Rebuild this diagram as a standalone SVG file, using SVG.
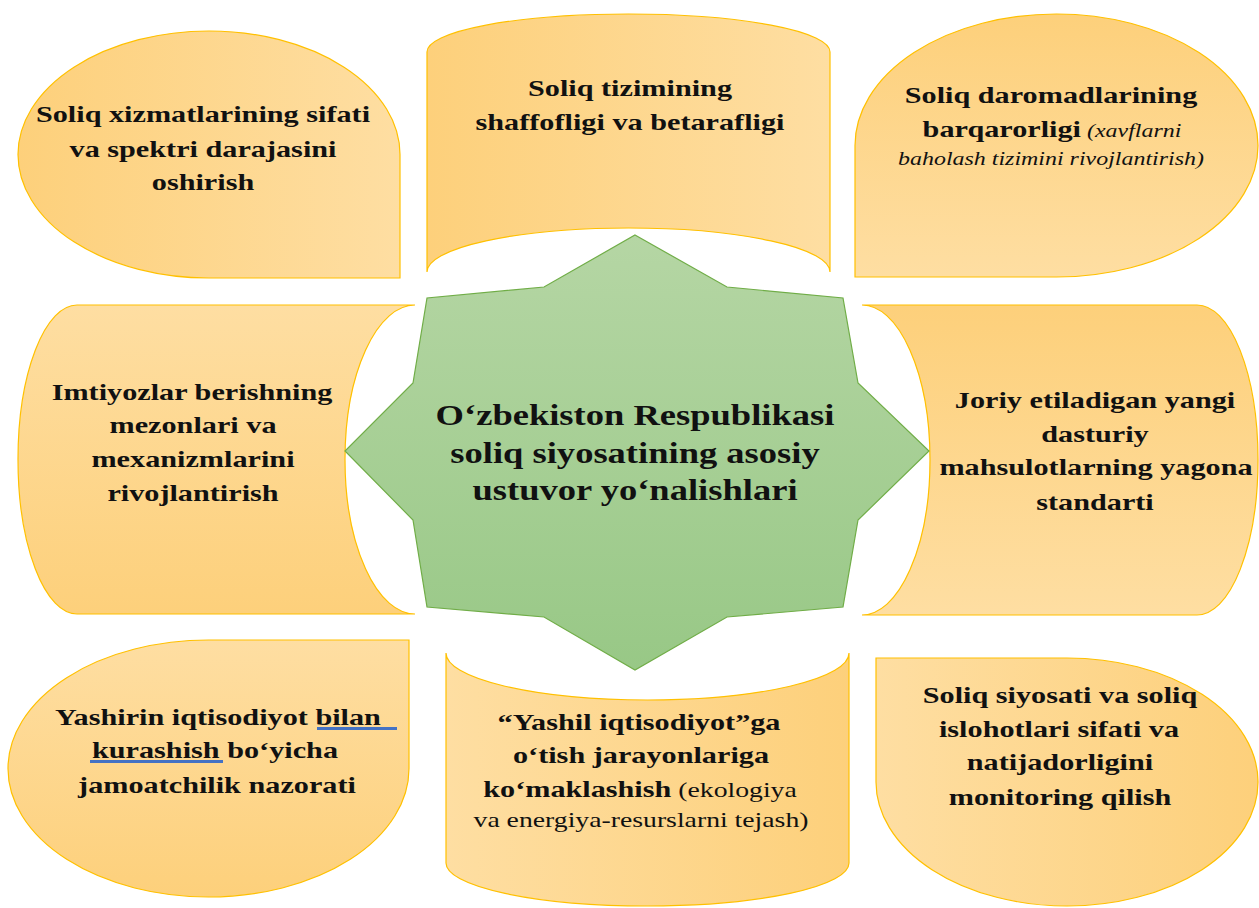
<svg xmlns="http://www.w3.org/2000/svg" width="1259" height="908" viewBox="0 0 1259 908">
<defs>
<linearGradient id="gL2R" x1="0" y1="0" x2="1" y2="0"><stop offset="0" stop-color="#FDD07B"/><stop offset="1" stop-color="#FEDEA2"/></linearGradient>
<linearGradient id="gR2L" x1="1" y1="0" x2="0" y2="0"><stop offset="0" stop-color="#FDD07B"/><stop offset="1" stop-color="#FEDEA2"/></linearGradient>
<linearGradient id="gT2B" x1="0" y1="0" x2="0" y2="1"><stop offset="0" stop-color="#FDD07B"/><stop offset="1" stop-color="#FEDEA2"/></linearGradient>
<linearGradient id="gB2T" x1="0" y1="1" x2="0" y2="0"><stop offset="0" stop-color="#FDD07B"/><stop offset="1" stop-color="#FEDEA2"/></linearGradient>
<linearGradient id="gStar" x1="0" y1="0" x2="0" y2="1"><stop offset="0" stop-color="#B5D6A4"/><stop offset="1" stop-color="#98C886"/></linearGradient>
</defs>
<style>
.box{stroke:#FFC000;stroke-width:1.2}
.star{fill:url(#gStar);stroke:#70AD47;stroke-width:1.2}
text{font-family:"Liberation Serif","Times New Roman",serif;fill:#111;text-anchor:middle}
.b{font-weight:bold;font-size:24px}
.c{font-weight:bold;font-size:29px}
.it{font-style:italic;font-weight:normal;font-size:19px}
.r{font-weight:normal;font-size:22px}
.ul{fill:#4472C4}
</style>
<rect width="1259" height="908" fill="#FFFFFF"/>
<g id="connectors"/>
<g id="node-top-left">
<path class="box" fill="url(#gL2R)" d="M400,278 L209,278 A191,123.5 0 0 1 18,154.5 A191,123.5 0 0 1 209,31 A191,123.5 0 0 1 400,154.5 Z"/>
<text class="b" transform="translate(203,122) scale(1.26,1)">Soliq xizmatlarining sifati</text>
<text class="b" transform="translate(203,157) scale(1.26,1)">va spektri darajasini</text>
<text class="b" transform="translate(203,190) scale(1.26,1)">oshirish</text>
</g>
<g id="node-top-middle">
<path class="box" fill="url(#gL2R)" d="M427,52 A201.5,38 0 0 1 830,52 L830,272 A201.5,44 0 0 0 427,272 Z"/>
<text class="b" transform="translate(630,96) scale(1.26,1)">Soliq tizimining</text>
<text class="b" transform="translate(630,130) scale(1.26,1)">shaffofligi va betarafligi</text>
</g>
<g id="node-top-right">
<path class="box" fill="url(#gT2B)" d="M855,277 L855,145.5 A201.5,131.5 0 0 1 1056.5,14 A201.5,131.5 0 0 1 1258,145.5 A201.5,131.5 0 0 1 1056.5,277 Z"/>
<text class="b" transform="translate(1051,103) scale(1.26,1)">Soliq daromadlarining</text>
<text transform="translate(1052,137) scale(1.26,1)"><tspan class="b">barqarorligi</tspan><tspan class="it"> (xavflarni</tspan></text>
<text class="it" transform="translate(1051,165) scale(1.26,1)">baholash tizimini rivojlantirish)</text>
</g>
<g id="node-middle-left">
<path class="box" fill="url(#gB2T)" d="M77,305 L415,305 A70,154.5 0 0 0 415,614 L77,614 A59,154.5 0 0 1 77,305 Z"/>
<text class="b" transform="translate(192,400) scale(1.26,1)">Imtiyozlar berishning</text>
<text class="b" transform="translate(193,433) scale(1.26,1)">mezonlari va</text>
<text class="b" transform="translate(193,467) scale(1.26,1)">mexanizmlarini</text>
<text class="b" transform="translate(193,501) scale(1.26,1)">rivojlantirish</text>
</g>
<g id="node-middle-right">
<path class="box" fill="url(#gT2B)" d="M862,305 L1197,305 A61,155 0 0 1 1197,615 L862,615 A68,155 0 0 0 862,305 Z"/>
<text class="b" transform="translate(1095,408) scale(1.26,1)">Joriy etiladigan yangi</text>
<text class="b" transform="translate(1095,442) scale(1.26,1)">dasturiy</text>
<text class="b" transform="translate(1096,475) scale(1.26,1)">mahsulotlarning yagona</text>
<text class="b" transform="translate(1095,510) scale(1.26,1)">standarti</text>
</g>
<g id="node-bottom-left">
<path class="box" fill="url(#gB2T)" d="M409,640 L409,768.5 A200.5,128.5 0 0 1 208.5,897 A200.5,128.5 0 0 1 8,768.5 A200.5,128.5 0 0 1 208.5,640 Z"/>
<rect class="ul" x="317" y="727" width="80" height="3"/>
<rect class="ul" x="90" y="760" width="133" height="3"/>
<text class="b" transform="translate(218,725) scale(1.26,1)">Yashirin iqtisodiyot bilan</text>
<text class="b" transform="translate(215,758) scale(1.26,1)">kurashish bo‘yicha</text>
<text class="b" transform="translate(217,793) scale(1.26,1)">jamoatchilik nazorati</text>
</g>
<g id="node-bottom-middle">
<path class="box" fill="url(#gR2L)" d="M446,653 A201.5,47 0 0 0 849,653 L849,863 A201.5,43 0 0 1 446,863 Z"/>
<text class="b" transform="translate(639,730) scale(1.26,1)">“Yashil iqtisodiyot”ga</text>
<text class="b" transform="translate(641,763) scale(1.26,1)">o‘tish jarayonlariga</text>
<text transform="translate(640,797) scale(1.26,1)"><tspan class="b">ko‘maklashish</tspan><tspan class="r"> (ekologiya</tspan></text>
<text class="r" transform="translate(641,827) scale(1.26,1)">va energiya-resurslarni tejash)</text>
</g>
<g id="node-bottom-right">
<path class="box" fill="url(#gR2L)" d="M876,658 L1067,658 A191,124 0 0 1 1258,782 A191,124 0 0 1 1067,906 A191,124 0 0 1 876,782 Z"/>
<text class="b" transform="translate(1060,703) scale(1.26,1)">Soliq siyosati va soliq</text>
<text class="b" transform="translate(1059,737) scale(1.26,1)">islohotlari sifati va</text>
<text class="b" transform="translate(1060,770) scale(1.26,1)">natijadorligini</text>
<text class="b" transform="translate(1060,805) scale(1.26,1)">monitoring qilish</text>
</g>
<g id="node-center">
<polygon class="star" points="635,235 727,287 843,298 858,383 929,451 858,520 843,607 727,617 635,670 544,617 427,607 413,520 345,451 413,383 427,298 544,287"/>
<text class="c" transform="translate(635,425) scale(1.26,1)">O‘zbekiston Respublikasi</text>
<text class="c" transform="translate(635,463) scale(1.26,1)">soliq siyosatining asosiy</text>
<text class="c" transform="translate(635,500) scale(1.26,1)">ustuvor yo‘nalishlari</text>
</g>
</svg>
